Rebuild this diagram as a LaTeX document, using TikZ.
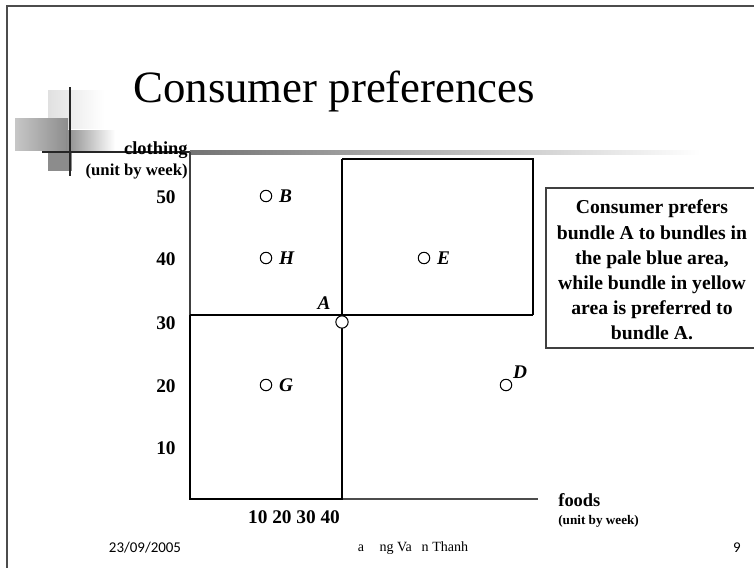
\documentclass[tikz,border=0pt]{standalone}
\usepackage{fontspec}
\setmainfont{Liberation Serif}
\newfontfamily\footfont{Carlito}

\begin{document}
\begin{tikzpicture}[x=0.02cm,y=-0.02cm,
    pt/.style={circle,draw,fill=white,line width=0.6pt,inner sep=0pt,minimum size=6.5pt},
    lab/.style={font=\fontsize{11}{13}\selectfont\bfseries\itshape,inner sep=1pt},
    num/.style={font=\fontsize{11}{13}\selectfont\bfseries,inner sep=0pt},
    unit/.style={font=\fontsize{9.5}{11}\selectfont\bfseries},
    foot/.style={font=\fontsize{8}{10}\selectfont}]
    \useasboundingbox (0,0) rectangle (754,568);
    \clip (0,0) rectangle (754,568);
    \fill[white] (0,0) rectangle (754,568);
    % slide frame
    \draw[line width=1.2pt,black!70] (7,580)--(7,6)--(760,6);
    % corner decoration
    \fill[left color=black!12,right color=white] (48,90) rectangle (104,128);
    \fill[left color=black!22,right color=black!45] (15,118) rectangle (68,150);
    \fill[left color=black!45,right color=white] (66,130) rectangle (115,152);
    \fill[black!45] (48,152) rectangle (72,171);
    \fill[left color=black!55,right color=white] (190,150.5) rectangle (700,154);
    \draw[line width=1.4pt,black!85] (42,152)--(190,152);
    \draw[line width=1.4pt,black!85] (70,87)--(70,176);
    \node[anchor=base west,font=\fontsize{25.5}{30}\selectfont,inner sep=0pt] (title) at (133,102) {Consumer preferences};
    % axes and regions
    \draw[line width=0.8pt,black!75] (190,152)--(190,315);
    \draw[line width=1.6pt] (190,315)--(190,499)--(343,499);
    \draw[line width=0.9pt,black!70] (343,499)--(538,499);
    \draw[line width=0.8pt] (190,315)--(533,315);
    \draw[line width=0.8pt] (342,159)--(342,499);
    \draw[line width=0.8pt] (342,159)--(533,159)--(533,315);
    % text box
    \draw[line width=1pt,black!75] (770,188)--(546,188)--(546,348)--(770,348);
    \node[align=center,font=\fontsize{11.2}{14.3}\selectfont\bfseries] (note) at (652,270)
      {Consumer prefers\\bundle A to bundles in\\the pale blue area,\\while bundle in yellow\\area is preferred to\\bundle A.};
    % bundles
    \node[pt] (pb) at (266,196) {};
    \node[pt] (ph) at (266,258) {};
    \node[pt] (pe) at (424,258) {};
    \node[pt] (pg) at (266,385) {};
    \node[pt] (pd) at (506,385) {};
    \node[pt,minimum size=7pt] (pa) at (342,322) {};
    \node[lab,anchor=west] (lb) at (277,196) {B};
    \node[lab,anchor=west] (lh) at (277,258) {H};
    \node[lab,anchor=west] (le) at (435,258) {E};
    \node[lab,anchor=west] (lg) at (277,385) {G};
    \node[lab] (ld) at (520,372) {D};
    \node[lab] (la) at (324,303) {A};
    % axis labels
    \node[num,anchor=east] (ya) at (176,197) {50};
    \node[num,anchor=east] (yb) at (176,259) {40};
    \node[num,anchor=east] (yc) at (176,323) {30};
    \node[num,anchor=east] (yd) at (176,386) {20};
    \node[num,anchor=east] (ye) at (176,448) {10};
    \node[num] (xa) at (294,517) {10 20 30 40};
    \node[font=\fontsize{10.5}{12}\selectfont\bfseries,anchor=east,inner sep=0pt] (cl) at (188,150) {clothing};
    \node[unit,anchor=east,inner sep=0pt] (cu) at (188,172) {(unit by week)};
    \node[font=\fontsize{10.5}{12}\selectfont\bfseries,anchor=west,inner sep=0pt] (fo) at (558,500) {foods};
    \node[unit,font=\fontsize{7.5}{9}\selectfont\bfseries,anchor=west,inner sep=0pt] (fu) at (558,521) {(unit by week)};
    % footer
    \node[foot,font=\footfont\fontsize{8.5}{10}\selectfont] (fd) at (145,548) {23/09/2005};
    \node[foot] (fn) at (413,548) {a\hspace{1.1em}ng Va\hspace{0.7em}n Thanh};
    \node[foot,font=\footfont\fontsize{8.5}{10}\selectfont] (fp) at (737,548) {9};
\end{tikzpicture}
\end{document}
